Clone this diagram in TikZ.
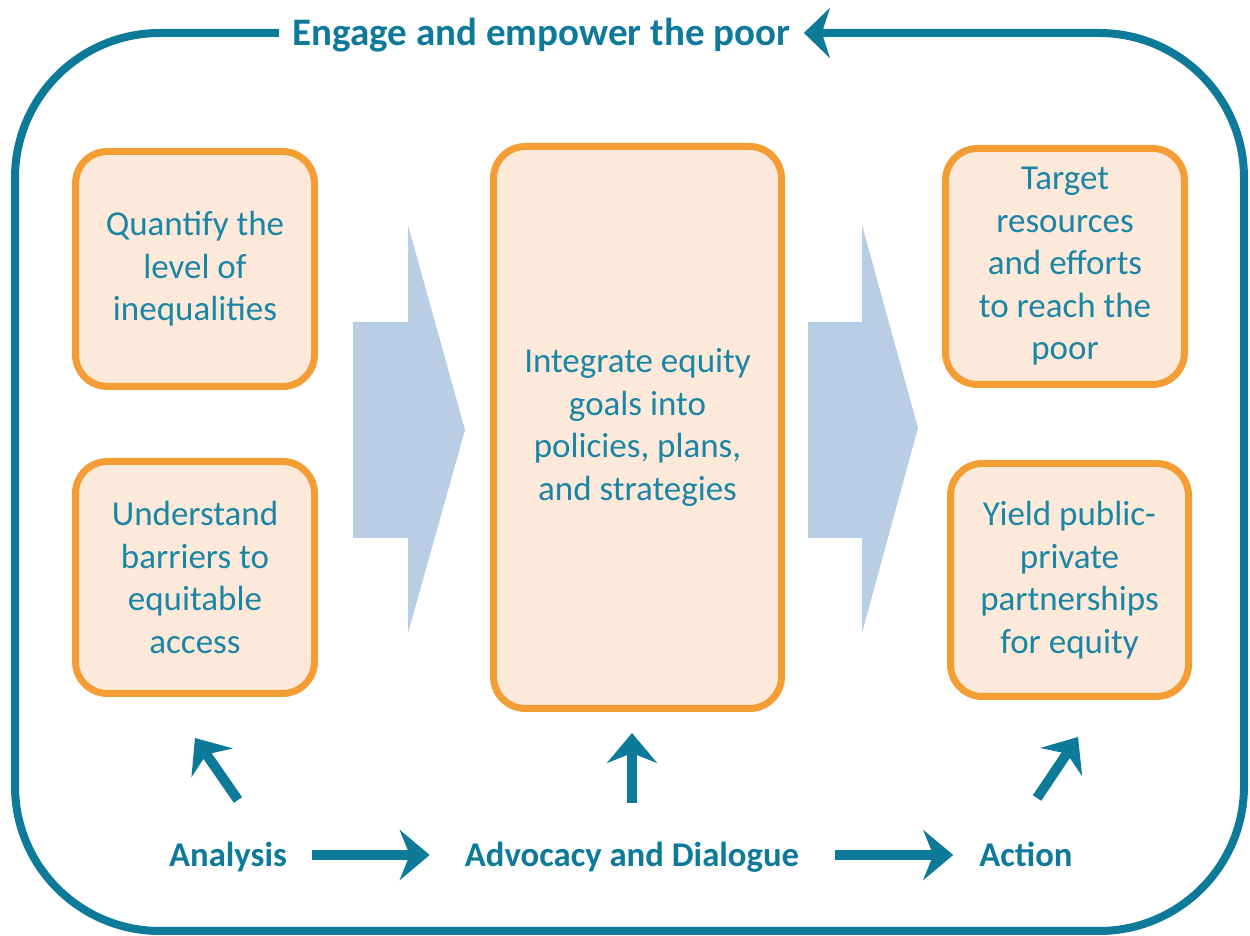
\documentclass[tikz,border=0pt]{standalone}
\usepackage{fontspec}
\setmainfont{Carlito}
\usepackage{tikz}
\usetikzlibrary{arrows.meta, positioning}
\definecolor{teal01}{HTML}{0E7A9A}
\definecolor{teal02}{HTML}{1A85A5}
\definecolor{orange01}{HTML}{F49D35}
\definecolor{peach01}{HTML}{FDE9DA}
\definecolor{blue01}{HTML}{B9CDE5}
\tikzset{
    task/.style={
        rectangle, draw=orange01, fill=peach01,
        line width=7pt, rounded corners=32pt,
        align=center, text=teal02,
        font=\fontsize{35}{42.5}\selectfont,
        inner sep=0pt
    },
    stage/.style={
        text=teal01, font=\fontsize{34.7}{42}\selectfont\bfseries,
        text height=23pt, text depth=0pt, inner sep=0pt
    },
    flow/.style={
        teal01, line width=10pt,
        -{Stealth[length=30pt, width=50pt, inset=10pt]}
    },
    ring/.style={
        teal01, line width=8pt, rounded corners=145pt,
        -{Stealth[length=26pt, width=50pt, inset=8pt]}
    },
    chevron/.style={fill=blue01},
}

\begin{document}
\begin{tikzpicture}[x=1pt, y=1pt]
    \useasboundingbox (0,0) rectangle (1250,936);

    % Draw outer loop with title
    \node[stage, font=\fontsize{39}{46}\selectfont\bfseries, text height=25pt,
        inner xsep=13.5pt] (engage) at (541.5,903) {Engage and empower the poor};
    \draw[ring] (engage.west) -| (15,5) -| (1244,903) -- (engage.east);

    % Draw analysis boxes
    \node[task, minimum width=239pt, minimum height=235pt] (quantify) at (195,667)
        {Quantify the\\level of\\inequalities};
    \node[task, minimum width=239pt, minimum height=232pt] (barriers) at (195,358.5)
        {Understand\\barriers to\\equitable\\access};

    % Draw middle box
    \node[task, minimum width=288pt, minimum height=562pt] (integrate) at (637.5,508.5)
        {Integrate equity\\goals into\\policies, plans,\\and strategies};

    % Draw action boxes
    \node[task, minimum width=239pt, minimum height=236pt] (target) at (1065,669.5)
        {Target\\resources\\and efforts\\to reach the\\poor};
    \node[task, minimum width=238pt, minimum height=233pt] (yield) at (1069.5,356)
        {Yield public-\\private\\partnerships\\for equity};

    % Draw big chevrons
    \fill[chevron] (353,614) -- (408,614) -- (408,711) -- (465,506)
        -- (408,303) -- (408,398) -- (353,398) -- cycle;
    \fill[chevron] (808,614) -- (862,614) -- (862,711) -- (918,508)
        -- (862,303) -- (862,398) -- (808,398) -- cycle;

    % Draw stages
    \node[stage] (analysis) at (228,81) {Analysis};
    \node[stage] (advocacy) at (632,81) {Advocacy and Dialogue};
    \node[stage] (action) at (1026,81) {Action};

    \draw[flow, shorten <=25pt, shorten >=35pt] (analysis.east) -- (advocacy.west);
    \draw[flow, shorten <=36pt, shorten >=26pt] (advocacy.east) -- (action.west);

    \draw[flow] ([shift={(10,55)}]analysis.center) -- ++(-43,62);
    \draw[flow] ([yshift=52pt]advocacy.center)
        -- ([yshift=-21pt]advocacy.center |- integrate.south);
    \draw[flow] ([shift={(11,57)}]action.center) -- ++(41,61);
\end{tikzpicture}
\end{document}
